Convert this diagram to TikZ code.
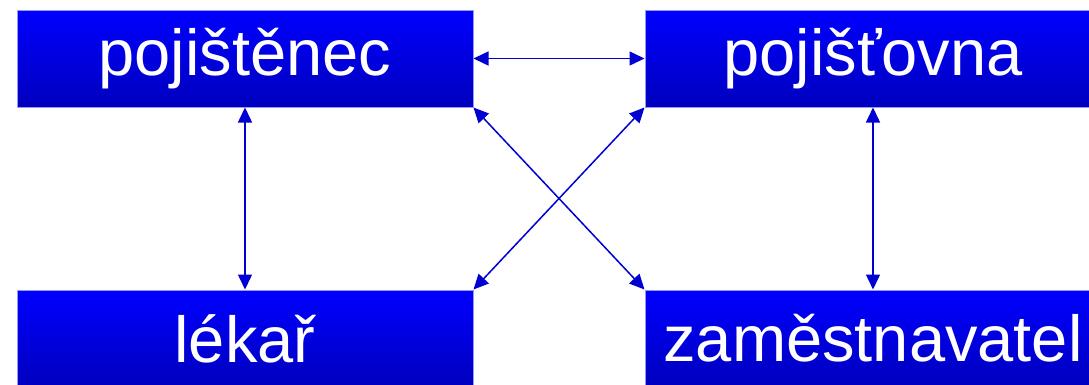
\documentclass[tikz,border=0pt]{standalone}
\usepackage{fontspec}
\setmainfont{Liberation Sans}
\usetikzlibrary{arrows.meta}
\definecolor{boxtop}{RGB}{0,0,255}
\definecolor{boxbottom}{RGB}{0,0,190}
\definecolor{boxline}{RGB}{150,150,255}
\definecolor{arrowblue}{RGB}{0,0,210}
\begin{document}
\begin{tikzpicture}[x=1pt, y=-1pt,
		role/.style={draw=boxline, line width=1pt, top color=boxtop, bottom color=boxbottom,
			minimum width=456pt, minimum height=97pt, inner sep=0pt, text=white,
			font=\fontsize{65}{78}\selectfont},
		link/.style={draw=arrowblue, line width=1.5pt, {Triangle[length=15pt,width=14pt]}-{Triangle[length=15pt,width=14pt]}}]
			\clip (0,0) rectangle (1089,384);
			\useasboundingbox (0,0) rectangle (1089,384);
			%
			\def\roles {tl/245/58.5/pojištěnec, tr/873/58.5/pojišťovna, bl/245/338.5/lékař, br/873/338.5/zaměstnavatel};
			% draw the four parties
			\foreach \label\x\y\name in \roles{
				\node[role] (\label) at (\x,\y) {\name};
			}
			% draw the links between them
			\def\links {tl.east/tr.west, tl.south/bl.north, tr.south/br.north, tl.south east/br.north west, tr.south west/bl.north east};
			\foreach \s\t in \links{
				\draw[link] (\s) -- (\t);
			}
		\end{tikzpicture}
\end{document}
